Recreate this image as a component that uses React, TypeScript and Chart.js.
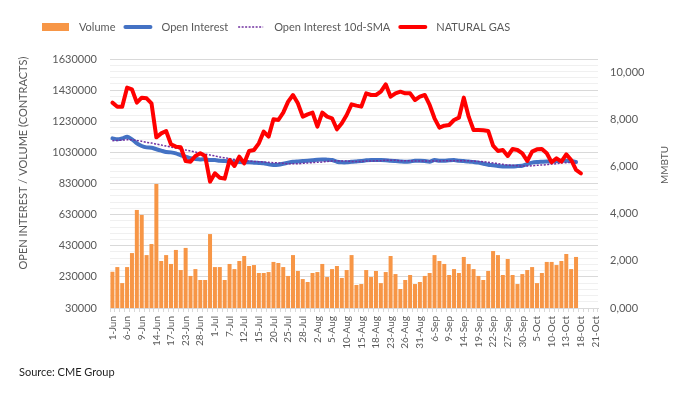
import React, { useEffect, useRef } from 'react';
import { Chart, registerables } from 'chart.js';

Chart.register(...registerables);

const dates = [
  '1-Jun','2-Jun','3-Jun','6-Jun','7-Jun','8-Jun','9-Jun','10-Jun','13-Jun','14-Jun','15-Jun','16-Jun','17-Jun','21-Jun','22-Jun','23-Jun','24-Jun','27-Jun','28-Jun','29-Jun','30-Jun',
  '1-Jul','5-Jul','6-Jul','7-Jul','8-Jul','11-Jul','12-Jul','13-Jul','14-Jul','15-Jul','18-Jul','19-Jul','20-Jul','21-Jul','22-Jul','25-Jul','26-Jul','27-Jul','28-Jul','29-Jul',
  '1-Aug','2-Aug','3-Aug','4-Aug','5-Aug','8-Aug','9-Aug','10-Aug','11-Aug','12-Aug','15-Aug','16-Aug','17-Aug','18-Aug','19-Aug','22-Aug','23-Aug','24-Aug','25-Aug','26-Aug','29-Aug','30-Aug','31-Aug',
  '1-Sep','2-Sep','6-Sep','7-Sep','8-Sep','9-Sep','12-Sep','13-Sep','14-Sep','15-Sep','16-Sep','19-Sep','20-Sep','21-Sep','22-Sep','23-Sep','26-Sep','27-Sep','28-Sep','29-Sep','30-Sep',
  '3-Oct','4-Oct','5-Oct','6-Oct','7-Oct','10-Oct','11-Oct','12-Oct','13-Oct','14-Oct','17-Oct','18-Oct','19-Oct','20-Oct','21-Oct',
];

const volume = [
  263000, 293000, 190000, 293000, 383000, 660000, 628000, 370000, 441000, 827000,
  332000, 370000, 313000, 403000, 274000, 416000, 236000, 280000, 210000, 210000,
  505000, 293000, 293000, 210000, 313000, 280000, 332000, 364000, 300000, 306000,
  255000, 255000, 261000, 326000, 319000, 293000, 236000, 370000, 268000, 216000,
  197000, 255000, 261000, 313000, 229000, 280000, 300000, 223000, 274000, 370000,
  178000, 184000, 274000, 229000, 268000, 190000, 261000, 364000, 248000, 152000,
  210000, 242000, 184000, 197000, 236000, 255000, 370000, 332000, 313000, 242000,
  280000, 255000, 358000, 313000, 280000, 236000, 210000, 268000, 396000, 370000,
  242000, 345000, 242000, 184000, 248000, 274000, 293000, 190000, 255000, 326000,
  326000, 306000, 332000, 377000, 280000, 358000,
];

const openInterest = [
  1120000, 1114000, 1120000, 1131000, 1114000, 1088000, 1071000, 1062000, 1060000, 1050000,
  1041000, 1032000, 1030000, 1024000, 1011000, 1002000, 992000, 988000, 985000, 985000,
  981000, 981000, 976000, 974000, 972000, 970000, 968000, 966000, 966000, 964000,
  962000, 960000, 953000, 949000, 951000, 957000, 964000, 970000, 972000, 974000,
  976000, 979000, 983000, 985000, 983000, 981000, 970000, 966000, 966000, 970000,
  972000, 974000, 979000, 981000, 981000, 981000, 979000, 976000, 974000, 972000,
  970000, 972000, 976000, 976000, 974000, 970000, 981000, 976000, 976000, 979000,
  981000, 976000, 974000, 972000, 968000, 964000, 957000, 951000, 947000, 942000,
  940000, 940000, 940000, 942000, 944000, 955000, 964000, 968000, 970000, 972000,
  972000, 974000, 976000, 976000, 974000, 968000,
];

const openInterestSma = [
  1105000, 1107000, 1109000, 1111000, 1111000, 1107000, 1101000, 1094000, 1090000, 1083000,
  1077000, 1071000, 1064000, 1058000, 1051000, 1045000, 1039000, 1032000, 1026000, 1019000,
  1013000, 1007000, 1000000, 996000, 990000, 985000, 981000, 976000, 974000, 972000,
  970000, 968000, 966000, 964000, 962000, 960000, 957000, 957000, 957000, 960000,
  962000, 964000, 966000, 968000, 972000, 974000, 976000, 974000, 974000, 972000,
  972000, 972000, 974000, 974000, 976000, 976000, 979000, 979000, 979000, 976000,
  976000, 976000, 974000, 974000, 974000, 974000, 974000, 974000, 976000, 976000,
  976000, 976000, 976000, 976000, 974000, 972000, 970000, 966000, 962000, 957000,
  953000, 949000, 947000, 944000, 942000, 942000, 944000, 947000, 949000, 951000,
  955000, 957000, 962000, 964000, 966000, 968000,
];

const naturalGas = [
  8700, 8530, 8530, 9336, 9265, 8700, 8912, 8884, 8672, 7230,
  7400, 7500, 6935, 6836, 6808, 6228, 6200, 6440, 6554, 6440,
  5353, 5706, 5522, 5480, 6271, 6017, 6412, 6130, 6653, 6695,
  6978, 7472, 7260, 7995, 7966, 8277, 8743, 9025, 8672, 8107,
  8206, 8277, 7684, 8277, 8107, 8037, 7571, 7825, 8178, 8630,
  8573, 8531, 9096, 9025, 9025, 9166, 9477, 8955, 9096, 9166,
  9096, 9096, 8814, 8955, 9025, 8602, 8037, 7642, 7726, 7754,
  7966, 8065, 8912, 8107, 7542, 7542, 7528, 7500, 6879, 6653,
  6695, 6441, 6737, 6695, 6554, 6229, 6624, 6723, 6737, 6554,
  6172, 6342, 6200, 6511, 6271, 5848, 5706,
];

const leftMin = 30000;
const leftMax = 1630000;
const leftMajor = 200000;
const leftMinor = 40000;
const rightMax = 10550;
const rightStep = 2000;

const legendItems = [
  { label: 'Volume', kind: 'box', color: '#F79646' },
  { label: 'Open Interest', kind: 'line', color: '#4472C4' },
  { label: 'Open Interest 10d-SMA', kind: 'dot', color: '#7030A0' },
  { label: 'NATURAL GAS', kind: 'line', color: '#FF0000' },
];

const FONT = 'Lato, "Open Sans", sans-serif';
const TEXT = '#595959';

const fmtRight = (v: number) =>
  `${Math.floor(v / 1000)},${String(Math.round(v % 1000)).padStart(3, '0')}`;

const decorPlugin = {
  id: 'decor',
  afterDraw(chart: any) {
    const ctx = chart.ctx as CanvasRenderingContext2D;
    ctx.save();
    // legend
    ctx.font = `11px ${FONT}`;
    ctx.textBaseline = 'middle';
    ctx.textAlign = 'left';
    const ly = 27;
    let x = 42;
    legendItems.forEach((it) => {
      if (it.kind === 'box') {
        ctx.fillStyle = it.color;
        ctx.fillRect(x, ly - 4, 27, 8);
        x += 27 + 10;
      } else {
        ctx.beginPath();
        ctx.strokeStyle = it.color;
        if (it.kind === 'dot') {
          ctx.lineWidth = 1.5;
          ctx.setLineDash([2, 1.5]);
          ctx.lineCap = 'butt';
        } else {
          ctx.lineWidth = 4;
          ctx.setLineDash([]);
          ctx.lineCap = 'round';
        }
        ctx.moveTo(x + 2, ly);
        ctx.lineTo(x + 27, ly);
        ctx.stroke();
        ctx.setLineDash([]);
        x += 29 + 9;
      }
      ctx.fillStyle = TEXT;
      ctx.fillText(it.label, x, ly);
      x += ctx.measureText(it.label).width + 8;
    });

    // left axis title
    ctx.fillStyle = TEXT;
    ctx.textAlign = 'center';
    ctx.font = `11px ${FONT}`;
    ctx.save();
    ctx.translate(23, 163);
    ctx.rotate(-Math.PI / 2);
    ctx.fillText('OPEN INTEREST / VOLUME (CONTRACTS)', 0, 0);
    ctx.restore();

    // right axis title
    ctx.font = `10px ${FONT}`;
    ctx.save();
    ctx.translate(665, 165);
    ctx.rotate(-Math.PI / 2);
    ctx.fillText('MMBTU', 0, 0);
    ctx.restore();

    // source
    ctx.textAlign = 'left';
    ctx.font = `11px ${FONT}`;
    ctx.fillStyle = '#1f1f1f';
    ctx.fillText('Source: CME Group', 19, 372);
    ctx.restore();
  },
};

export default function App() {
  const ref = useRef<HTMLCanvasElement | null>(null);

  useEffect(() => {
    if (!ref.current) return;
    const chart = new Chart(ref.current, {
      type: 'bar',
      data: {
        labels: dates,
        datasets: [
          {
            type: 'line',
            label: 'NATURAL GAS',
            data: naturalGas,
            yAxisID: 'y1',
            borderColor: '#FF0000',
            borderWidth: 4,
            pointRadius: 0,
            tension: 0,
            borderJoinStyle: 'round',
            borderCapStyle: 'round',
            order: 0,
          } as any,
          {
            type: 'line',
            label: 'Open Interest 10d-SMA',
            data: openInterestSma,
            yAxisID: 'y',
            borderColor: '#7030A0',
            borderWidth: 1.5,
            borderDash: [2, 1.5],
            pointRadius: 0,
            tension: 0.3,
            order: 1,
          } as any,
          {
            type: 'line',
            label: 'Open Interest',
            data: openInterest,
            yAxisID: 'y',
            borderColor: '#4472C4',
            borderWidth: 4,
            pointRadius: 0,
            tension: 0.2,
            borderJoinStyle: 'round',
            borderCapStyle: 'round',
            order: 2,
          } as any,
          {
            type: 'bar',
            label: 'Volume',
            data: volume,
            yAxisID: 'y',
            backgroundColor: '#F79646',
            barPercentage: 0.82,
            categoryPercentage: 1,
            order: 3,
          } as any,
        ],
      },
      options: {
        animation: false,
        responsive: false,
        devicePixelRatio: 1,
        layout: { padding: { top: 59, left: 0, right: 0, bottom: 0 } },
        plugins: {
          legend: { display: false },
          tooltip: { enabled: false },
        },
        scales: {
          x: {
            type: 'category',
            offset: true,
            grid: {
              display: true,
              drawOnChartArea: false,
              drawTicks: true,
              tickLength: 4,
              color: '#d9d9d9',
              offset: true,
            },
            border: { display: true, color: '#d9d9d9' },
            ticks: {
              autoSkip: false,
              maxRotation: 90,
              minRotation: 90,
              padding: 4,
              color: TEXT,
              font: { family: FONT, size: 10 },
              callback: (_v: any, i: number) => (i % 3 === 0 ? dates[i] : ''),
            },
            afterFit: (s: any) => {
              s.height = 85;
            },
          },
          y: {
            position: 'left',
            min: leftMin,
            max: leftMax,
            afterBuildTicks: (s: any) => {
              const t = [];
              for (let v = leftMin; v <= leftMax; v += leftMinor) t.push({ value: v });
              s.ticks = t;
            },
            grid: {
              drawTicks: false,
              color: (c: any) =>
                c.tick && (c.tick.value - leftMin) % leftMajor === 0 ? '#d9d9d9' : '#f0f0f0',
            },
            border: { display: false },
            ticks: {
              autoSkip: false,
              padding: 13,
              color: TEXT,
              font: { family: FONT, size: 11 },
              callback: (v: any) => ((v - leftMin) % leftMajor === 0 ? String(v) : ''),
            },
            afterFit: (s: any) => {
              s.width = 110;
            },
          },
          y1: {
            position: 'right',
            min: 0,
            max: rightMax,
            afterBuildTicks: (s: any) => {
              const t = [];
              for (let v = 0; v <= rightMax; v += rightStep) t.push({ value: v });
              s.ticks = t;
            },
            grid: { display: false, drawTicks: false },
            border: { display: false },
            ticks: {
              autoSkip: false,
              padding: 12,
              color: TEXT,
              font: { family: FONT, size: 11 },
              callback: (v: any) => fmtRight(Number(v)),
            },
            afterFit: (s: any) => {
              s.width = 93;
            },
          },
        },
      } as any,
      plugins: [decorPlugin],
    });
    return () => chart.destroy();
  }, []);

  return (
    <div style={{ position: 'absolute', left: 0, top: 0, width: 691, height: 393, background: '#fff' }}>
      <canvas ref={ref} width={691} height={393} style={{ display: 'block' }} />
    </div>
  );
}
